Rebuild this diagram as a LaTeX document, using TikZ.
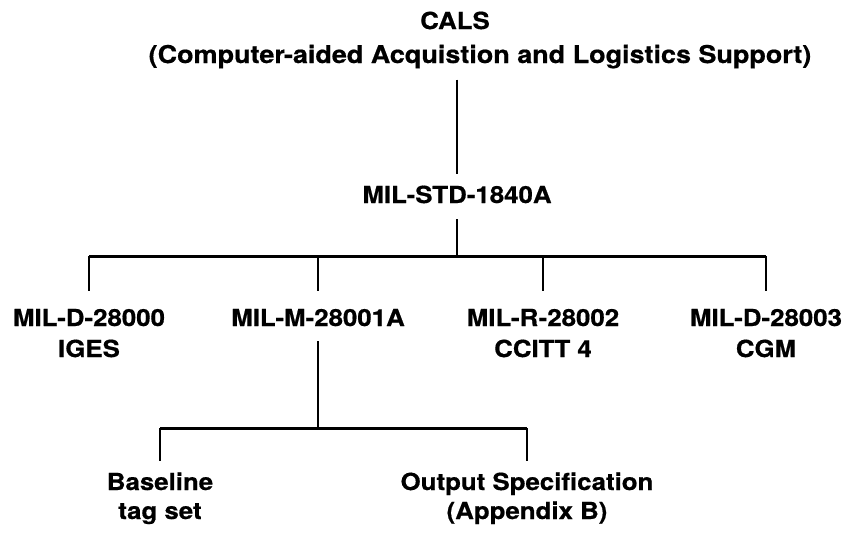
\documentclass[tikz,border=0pt]{standalone}
\usepackage{fontspec}
\setmainfont{TeX Gyre Heros}[FakeStretch=1.1, BoldFeatures={FakeBold=0.6}]
\begin{document}
\begin{tikzpicture}[x=1pt,y=-1pt,
    lbl/.style={font=\bfseries\fontsize{23.5}{31}\selectfont, align=center, inner xsep=0pt, inner ysep=11pt},
    stem/.style={line width=2.2pt},
    bar/.style={line width=3pt}]
    \useasboundingbox (0,0) rectangle (852,539);
    \node[lbl, anchor=base] (cals) at (455,29) {CALS};
    \node[lbl, anchor=base, font=\bfseries\fontsize{24.5}{31}\selectfont] (calsname) at (480,63) {(Computer-aided Acquistion and Logistics Support)};
    \node[lbl, anchor=base] (std) at (457,203) {MIL-STD-1840A};
    \node[lbl, anchor=base] (iges) at (89,357) {MIL-D-28000\\IGES};
    \node[lbl, anchor=base] (sgml) at (318,326) {MIL-M-28001A};
    \node[lbl, anchor=base] (ccitt) at (543,357) {MIL-R-28002\\CCITT 4};
    \node[lbl, anchor=base] (cgm) at (766,357) {MIL-D-28003\\CGM};
    \node[lbl, anchor=base, font=\bfseries\fontsize{23.5}{29}\selectfont] (tags) at (160,519) {Baseline\\tag set};
    \node[lbl, anchor=base, font=\bfseries\fontsize{23.5}{29}\selectfont] (outspec) at (527,519) {Output Specification\\(Appendix B)};
    \coordinate (hub) at (457,256);
    \coordinate (subhub) at (316,428);
    \draw[stem] (calsname.south -| std.north) -- (std.north);
    \draw[stem, shorten <=5pt] (std) -- (hub);
    \draw[bar] (iges.north |- hub) -- (cgm.north |- hub);
    \foreach \n in {iges,sgml,ccitt,cgm}{
      \draw[stem, shorten >=7pt] (\n.north |- hub) -- (\n.north);
    }
    \draw[stem, shorten <=4pt] (sgml.south) -- (sgml.south |- subhub);
    \draw[bar] (tags.north |- subhub) -- (outspec.north |- subhub);
    \foreach \n in {tags,outspec}{
      \draw[stem] (\n.north |- subhub) -- (\n.north);
    }
\end{tikzpicture}
\end{document}
